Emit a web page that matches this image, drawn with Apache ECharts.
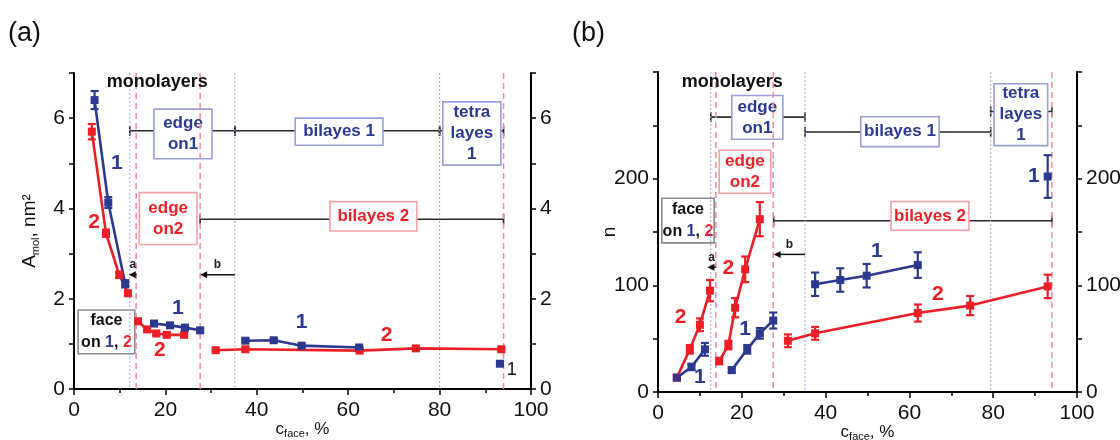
<!DOCTYPE html>
<html>
<head>
<meta charset="utf-8">
<title>A_mol and n vs c_face</title>
<script src="https://cdn.jsdelivr.net/npm/echarts@6/dist/echarts.min.js"></script>
<style>
  html, body { margin: 0; padding: 0; background: #fff; }
  #main { width: 1120px; height: 440px; }
</style>
</head>
<body>
<div id="main"></div>
<script>
// ---- panel (a): A_mol, nm2 ; points are [c_face %, value, error]
var aBlue1 = [[4.5, 6.4, 0.2], [7.5, 4.13, 0.12], [11.2, 2.33, 0.08]];
var aRed1 = [[3.9, 5.7, 0.17], [7.0, 3.45, 0.08], [9.9, 2.53, 0.07], [11.8, 2.12, 0.05]];
var aBlue2 = [[17.5, 1.45, 0.05], [21, 1.41, 0.04], [24.3, 1.36, 0.04], [27.6, 1.3, 0.04]];
var aRed2 = [[14, 1.5, 0.05], [16, 1.32, 0.04], [18, 1.23, 0.04], [20.3, 1.2, 0.04], [24.1, 1.2, 0.04]];
var aBlue3 = [[37.5, 1.07, 0.03], [43.7, 1.08, 0.03], [49.8, 0.96, 0.03], [62.4, 0.92, 0.03]];
var aRed3 = [[31, 0.86, 0.03], [37.5, 0.88, 0.03], [62.5, 0.85, 0.03], [74.8, 0.9, 0.03], [93.5, 0.88, 0.03]];
var aBlue4 = [[93.2, 0.56, 0.03]];

// region borders (c_face) : 'd' dotted blue, 'p' dashed pink
var aVLines = [12.2, 13.6, 27.6, 35.2, 80, 94];
var aVKinds = ['d', 'p', 'p', 'd', 'd', 'p'];
// range bars [from, to, level]
var aRanges = [[12.2, 35.2, 5.72], [35.2, 80, 5.72], [80, 94, 5.72], [27.6, 94, 3.76]];
// boxes [x1, y1, x2, y2]
var aBoxes = [[17.5, 6.2, 30.2, 5.1], [14.3, 4.35, 26.9, 3.2], [48.4, 6.0, 67.6, 5.4],
              [80.7, 6.36, 93.4, 4.96], [56, 4.15, 75, 3.5], [0.9, 1.75, 13.3, 0.78]];
var aBoxText = ['edge\non1', 'edge\non2', 'bilayes 1', 'tetra\nlayes\n1', 'bilayes 2', 'face'];
var aBoxKinds = ['b', 'r', 'b', 'b', 'r', 'f'];
// arrows [tail, head, level]
var aArrows = [[13.7, 12.0, 2.53], [35.2, 27.6, 2.53]];
var aArrowText = ['a', 'b'];
// curve numbers and notes [x, y]
var aLabels = [[9.4, 5.0], [4.4, 3.7], [22.7, 1.8], [18.8, 0.87], [49.8, 1.47], [68.4, 1.2], [95.8, 0.42], [18.2, 6.8]];
var aLabelText = ['1', '2', '1', '2', '1', '2', '1', 'monolayers'];
var aLabelKinds = ['b', 'r', 'b', 'r', 'b', 'r', 'k', 'm'];

// ---- panel (b): n
var bBlue1 = [[4.5, 13.5, 2], [8, 23.5, 3], [11.2, 40, 6]];
var bRed1 = [[4.5, 13.5, 2], [7.6, 40, 4], [10, 63, 6], [12.4, 95, 10]];
var bBlue2 = [[17.6, 20.5, 2], [21.3, 40, 4], [24.3, 55, 5], [27.5, 67, 7.5]];
var bRed2 = [[14.6, 29, 3], [16.8, 44, 4], [18.4, 79, 9], [20.8, 115, 12], [24.3, 162, 16]];
var bBlue3 = [[37.5, 101, 11], [43.5, 105, 11], [49.8, 109, 11], [62, 119, 12]];
var bRed3 = [[31, 48, 6], [37.5, 55, 6], [62, 74, 8], [74.5, 81, 9], [93, 99, 11]];
var bBlue4 = [[93, 202, 20]];

var bVLines = [12.6, 13.8, 27.5, 35.1, 79.4, 94];
var bVKinds = ['d', 'p', 'p', 'd', 'd', 'p'];
var bRanges = [[12.6, 35.1, 257.7], [35.1, 79.4, 243.7], [79.4, 94, 263], [27.6, 94, 160.6]];
var bBoxes = [[17.6, 278, 29.8, 237], [14.6, 226.7, 26.9, 186.3], [48.4, 258, 67.1, 230],
              [80.2, 289, 93, 231], [55.6, 178.6, 74.2, 151.6], [0.9, 181.7, 13.4, 139.8]];
var bBoxText = ['edge\non1', 'edge\non2', 'bilayes 1', 'tetra\nlayes\n1', 'bilayes 2', 'face'];
var bBoxKinds = ['b', 'r', 'b', 'b', 'r', 'f'];
var bArrows = [[13.8, 11.8, 117], [35.1, 27.6, 129]];
var bArrowText = ['a', 'b'];
var bLabels = [[5.4, 70], [10, 14], [16.8, 116], [20.8, 59], [52.2, 132], [66.8, 92], [89.7, 202], [17.7, 291]];
var bLabelText = ['2', '1', '2', '1', '1', '2', '1', 'monolayers'];
var bLabelKinds = ['r', 'b', 'r', 'b', 'b', 'r', 'b', 'm'];

var BLUE = '#2b3990', RED = '#ec1f27', FONT = '"Liberation Sans", Arial, sans-serif';

var chart = echarts.init(document.getElementById('main'));

function xAxisCfg(g) {
    return {
        type: 'value', gridIndex: g, min: 0, max: 100, interval: 20,
        axisLine: { lineStyle: { color: '#000', width: 2 } },
        axisTick: { length: 6, lineStyle: { color: '#000', width: 1.5 } },
        minorTick: { show: true, splitNumber: 2, length: 4, lineStyle: { color: '#000', width: 1.5 } },
        splitLine: { show: false },
        axisLabel: { color: '#111', fontSize: 21, fontFamily: FONT, margin: 11 },
        name: '{c|c}{s|face}{c|, %}', nameLocation: 'middle', nameGap: 30, nameMoveOverlap: false,
        nameTextStyle: { rich: {
            c: { fontSize: 17, fontFamily: FONT, color: '#111', lineHeight: 20 },
            s: { fontSize: 11, fontFamily: FONT, color: '#111', lineHeight: 20, verticalAlign: 'bottom' } } }
    };
}

function yAxisCfg(g, max, step, labelStep, right, name, gap) {
    var ax = {
        type: 'value', gridIndex: g, min: 0, max: max, interval: step,
        position: right ? 'right' : 'left',
        axisLine: { show: true, lineStyle: { color: '#000', width: 2 } },
        axisTick: { show: true, length: 5, lineStyle: { color: '#000', width: 1.5 } },
        splitLine: { show: false },
        axisLabel: {
            color: '#111', fontSize: 21, fontFamily: FONT, margin: 9,
            formatter: function (v) { return (v % labelStep === 0 && v < max) ? v : ''; }
        }
    };
    if (name) {
        ax.name = name; ax.nameLocation = 'middle'; ax.nameGap = gap; ax.nameRotate = 90;
        ax.nameMoveOverlap = false;
        ax.nameTextStyle = { rich: {
            c: { fontSize: 19, fontFamily: FONT, color: '#111', lineHeight: 22 },
            s: { fontSize: 11, fontFamily: FONT, color: '#111', lineHeight: 22, verticalAlign: 'bottom' } } };
    }
    return ax;
}

function lineSeries(data, color, p) {
    return {
        type: 'line', xAxisIndex: p, yAxisIndex: p * 2, data: data, silent: true,
        symbol: 'rect', symbolSize: 8, lineStyle: { color: color, width: 2.6 },
        itemStyle: { color: color }, z: 4
    };
}

function errSeries(data, color, p) {
    return {
        type: 'custom', xAxisIndex: p, yAxisIndex: p * 2, data: data, silent: true, z: 5,
        encode: { x: 0, y: 1 },
        renderItem: function (params, api) {
            var x = api.value(0), y = api.value(1), e = api.value(2);
            var t = api.coord([x, y + e]), b = api.coord([x, y - e]);
            var st = { stroke: color, lineWidth: 2.2 };
            return { type: 'group', children: [
                { type: 'line', shape: { x1: t[0], y1: t[1], x2: b[0], y2: b[1] }, style: st },
                { type: 'line', shape: { x1: t[0] - 4, y1: t[1], x2: t[0] + 4, y2: t[1] }, style: st },
                { type: 'line', shape: { x1: b[0] - 4, y1: b[1], x2: b[0] + 4, y2: b[1] }, style: st }
            ] };
        }
    };
}

function vlineSeries(vals, kinds, p) {
    return {
        type: 'custom', xAxisIndex: p, yAxisIndex: p * 2, silent: true, z: 3,
        data: vals.map(function (v) { return [v, 0]; }), encode: { x: 0, y: 1 },
        renderItem: function (params, api) {
            var cs = params.coordSys, pt = api.coord([api.value(0), 0]);
            var pink = kinds[params.dataIndex] === 'p';
            return { type: 'line', shape: { x1: pt[0], y1: cs.y, x2: pt[0], y2: cs.y + cs.height },
                style: { stroke: pink ? '#f28a9b' : '#a3a5e3', lineWidth: pink ? 1.5 : 1, lineDash: pink ? [6, 4] : [2, 2] } };
        }
    };
}

function rangeSeries(data, p) {
    return {
        type: 'custom', xAxisIndex: p, yAxisIndex: p * 2, data: data, silent: true, z: 1,
        encode: { x: [0, 1], y: 2 },
        renderItem: function (params, api) {
            var a = api.coord([api.value(0), api.value(2)]), b = api.coord([api.value(1), api.value(2)]);
            var st = { stroke: '#2a2a2a', lineWidth: 1.6 };
            return { type: 'group', children: [
                { type: 'line', shape: { x1: a[0], y1: a[1], x2: b[0], y2: b[1] }, style: st },
                { type: 'line', shape: { x1: a[0], y1: a[1] - 5, x2: a[0], y2: a[1] + 5 }, style: st },
                { type: 'line', shape: { x1: b[0], y1: b[1] - 5, x2: b[0], y2: b[1] + 5 }, style: st }
            ] };
        }
    };
}

function boxSeries(data, texts, kinds, p) {
    return {
        type: 'custom', xAxisIndex: p, yAxisIndex: p * 2, data: data, silent: true, z: 2,
        encode: { x: [0, 2], y: [1, 3] },
        renderItem: function (params, api) {
            var p1 = api.coord([api.value(0), api.value(1)]), p2 = api.coord([api.value(2), api.value(3)]);
            var k = kinds[params.dataIndex];
            var stroke = k === 'b' ? '#9c9ed8' : (k === 'r' ? '#f4a2a8' : '#8a8a8a');
            var fill = k === 'b' ? BLUE : (k === 'r' ? RED : '#111');
            var x = Math.min(p1[0], p2[0]), y = Math.min(p1[1], p2[1]);
            var w = Math.abs(p2[0] - p1[0]), h = Math.abs(p2[1] - p1[1]);
            var txt = k === 'f' ? '{k|' + texts[params.dataIndex] + '}\n{k|on }{b|1}{k|, }{r|2}' : texts[params.dataIndex];
            var tok = { fontSize: 16, fontWeight: 'bold', fontFamily: FONT, lineHeight: 22 };
            return { type: 'group', children: [
                { type: 'rect', shape: { x: x, y: y, width: w, height: h },
                  style: { fill: '#fff', stroke: stroke, lineWidth: 1.6 } },
                { type: 'text', x: x + w / 2, y: y + h / 2, style: {
                    text: txt, fill: fill, fontSize: 17, fontWeight: 'bold', fontFamily: FONT,
                    align: 'center', verticalAlign: 'middle', lineHeight: 21,
                    rich: {
                        k: Object.assign({ fill: '#111' }, tok),
                        b: Object.assign({ fill: BLUE }, tok),
                        r: Object.assign({ fill: RED }, tok)
                    } } }
            ] };
        }
    };
}

function arrowSeries(data, texts, p) {
    return {
        type: 'custom', xAxisIndex: p, yAxisIndex: p * 2, data: data, silent: true, z: 6,
        encode: { x: [0, 1], y: 2 },
        renderItem: function (params, api) {
            var a = api.coord([api.value(0), api.value(2)]), b = api.coord([api.value(1), api.value(2)]);
            var dir = b[0] < a[0] ? 1 : -1;
            return { type: 'group', children: [
                { type: 'line', shape: { x1: a[0], y1: a[1], x2: b[0] + dir * 5, y2: b[1] },
                  style: { stroke: '#111', lineWidth: 1.5 } },
                { type: 'polygon', shape: { points: [[b[0], b[1]], [b[0] + dir * 7, b[1] - 3.5], [b[0] + dir * 7, b[1] + 3.5]] },
                  style: { fill: '#111' } },
                { type: 'text', x: (a[0] + b[0]) / 2, y: a[1] - 4, style: {
                    text: texts[params.dataIndex], fill: '#222', fontSize: 12, fontWeight: 'bold',
                    fontFamily: FONT, align: 'center', verticalAlign: 'bottom' } }
            ] };
        }
    };
}

function labelSeries(data, texts, kinds, p) {
    return {
        type: 'custom', xAxisIndex: p, yAxisIndex: p * 2, data: data, silent: true, z: 7,
        encode: { x: 0, y: 1 },
        renderItem: function (params, api) {
            var pt = api.coord([api.value(0), api.value(1)]);
            var k = kinds[params.dataIndex];
            var color = k === 'b' ? BLUE : (k === 'r' ? RED : '#111');
            var size = k === 'm' ? 18 : (k === 'k' ? 18 : 21);
            return { type: 'text', x: pt[0], y: pt[1], style: {
                text: texts[params.dataIndex], fill: color, fontSize: size,
                fontWeight: k === 'k' ? 'normal' : 'bold', fontFamily: FONT,
                align: 'center', verticalAlign: 'middle' } };
        }
    };
}

function panelSeries(p, d) {
    return [
        rangeSeries(d.ranges, p),
        boxSeries(d.boxes, d.boxText, d.boxKinds, p),
        vlineSeries(d.vlines, d.vkinds, p),
        lineSeries(d.red1, RED, p), lineSeries(d.red2, RED, p), lineSeries(d.red3, RED, p),
        lineSeries(d.blue1, BLUE, p), lineSeries(d.blue2, BLUE, p), lineSeries(d.blue3, BLUE, p),
        lineSeries(d.blue4, BLUE, p),
        errSeries([].concat(d.red1, d.red2, d.red3), RED, p),
        errSeries([].concat(d.blue1, d.blue2, d.blue3, d.blue4), BLUE, p),
        arrowSeries(d.arrows, d.arrowText, p),
        labelSeries(d.labels, d.labelText, d.labelKinds, p)
    ];
}

var option = {
    animation: false,
    graphic: [
        { type: 'text', left: 8, top: 20, style: { text: '(a)', fontSize: 27, fontFamily: FONT, fill: '#111' } },
        { type: 'text', left: 572, top: 20, style: { text: '(b)', fontSize: 27, fontFamily: FONT, fill: '#111' } }
    ],
    grid: [
        { left: 74, top: 73, right: 589, bottom: 51, outerBoundsMode: 'none' },
        { left: 658, top: 72, right: 43, bottom: 48, outerBoundsMode: 'none' }
    ],
    xAxis: [xAxisCfg(0), xAxisCfg(1)],
    yAxis: [
        yAxisCfg(0, 7, 1, 2, false, '{c|A}{s|mol}{c|, nm²}', 33),
        yAxisCfg(0, 7, 1, 2, true),
        yAxisCfg(1, 300, 50, 100, false, '{c|n}', 37),
        yAxisCfg(1, 300, 50, 100, true)
    ],
    series: [].concat(
        panelSeries(0, {
            red1: aRed1, red2: aRed2, red3: aRed3, blue1: aBlue1, blue2: aBlue2, blue3: aBlue3, blue4: aBlue4,
            vlines: aVLines, vkinds: aVKinds, ranges: aRanges, boxes: aBoxes, boxText: aBoxText,
            boxKinds: aBoxKinds, arrows: aArrows, arrowText: aArrowText,
            labels: aLabels, labelText: aLabelText, labelKinds: aLabelKinds
        }),
        panelSeries(1, {
            red1: bRed1, red2: bRed2, red3: bRed3, blue1: bBlue1, blue2: bBlue2, blue3: bBlue3, blue4: bBlue4,
            vlines: bVLines, vkinds: bVKinds, ranges: bRanges, boxes: bBoxes, boxText: bBoxText,
            boxKinds: bBoxKinds, arrows: bArrows, arrowText: bArrowText,
            labels: bLabels, labelText: bLabelText, labelKinds: bLabelKinds
        })
    )
};
chart.setOption(option);
</script>
</body>
</html>
